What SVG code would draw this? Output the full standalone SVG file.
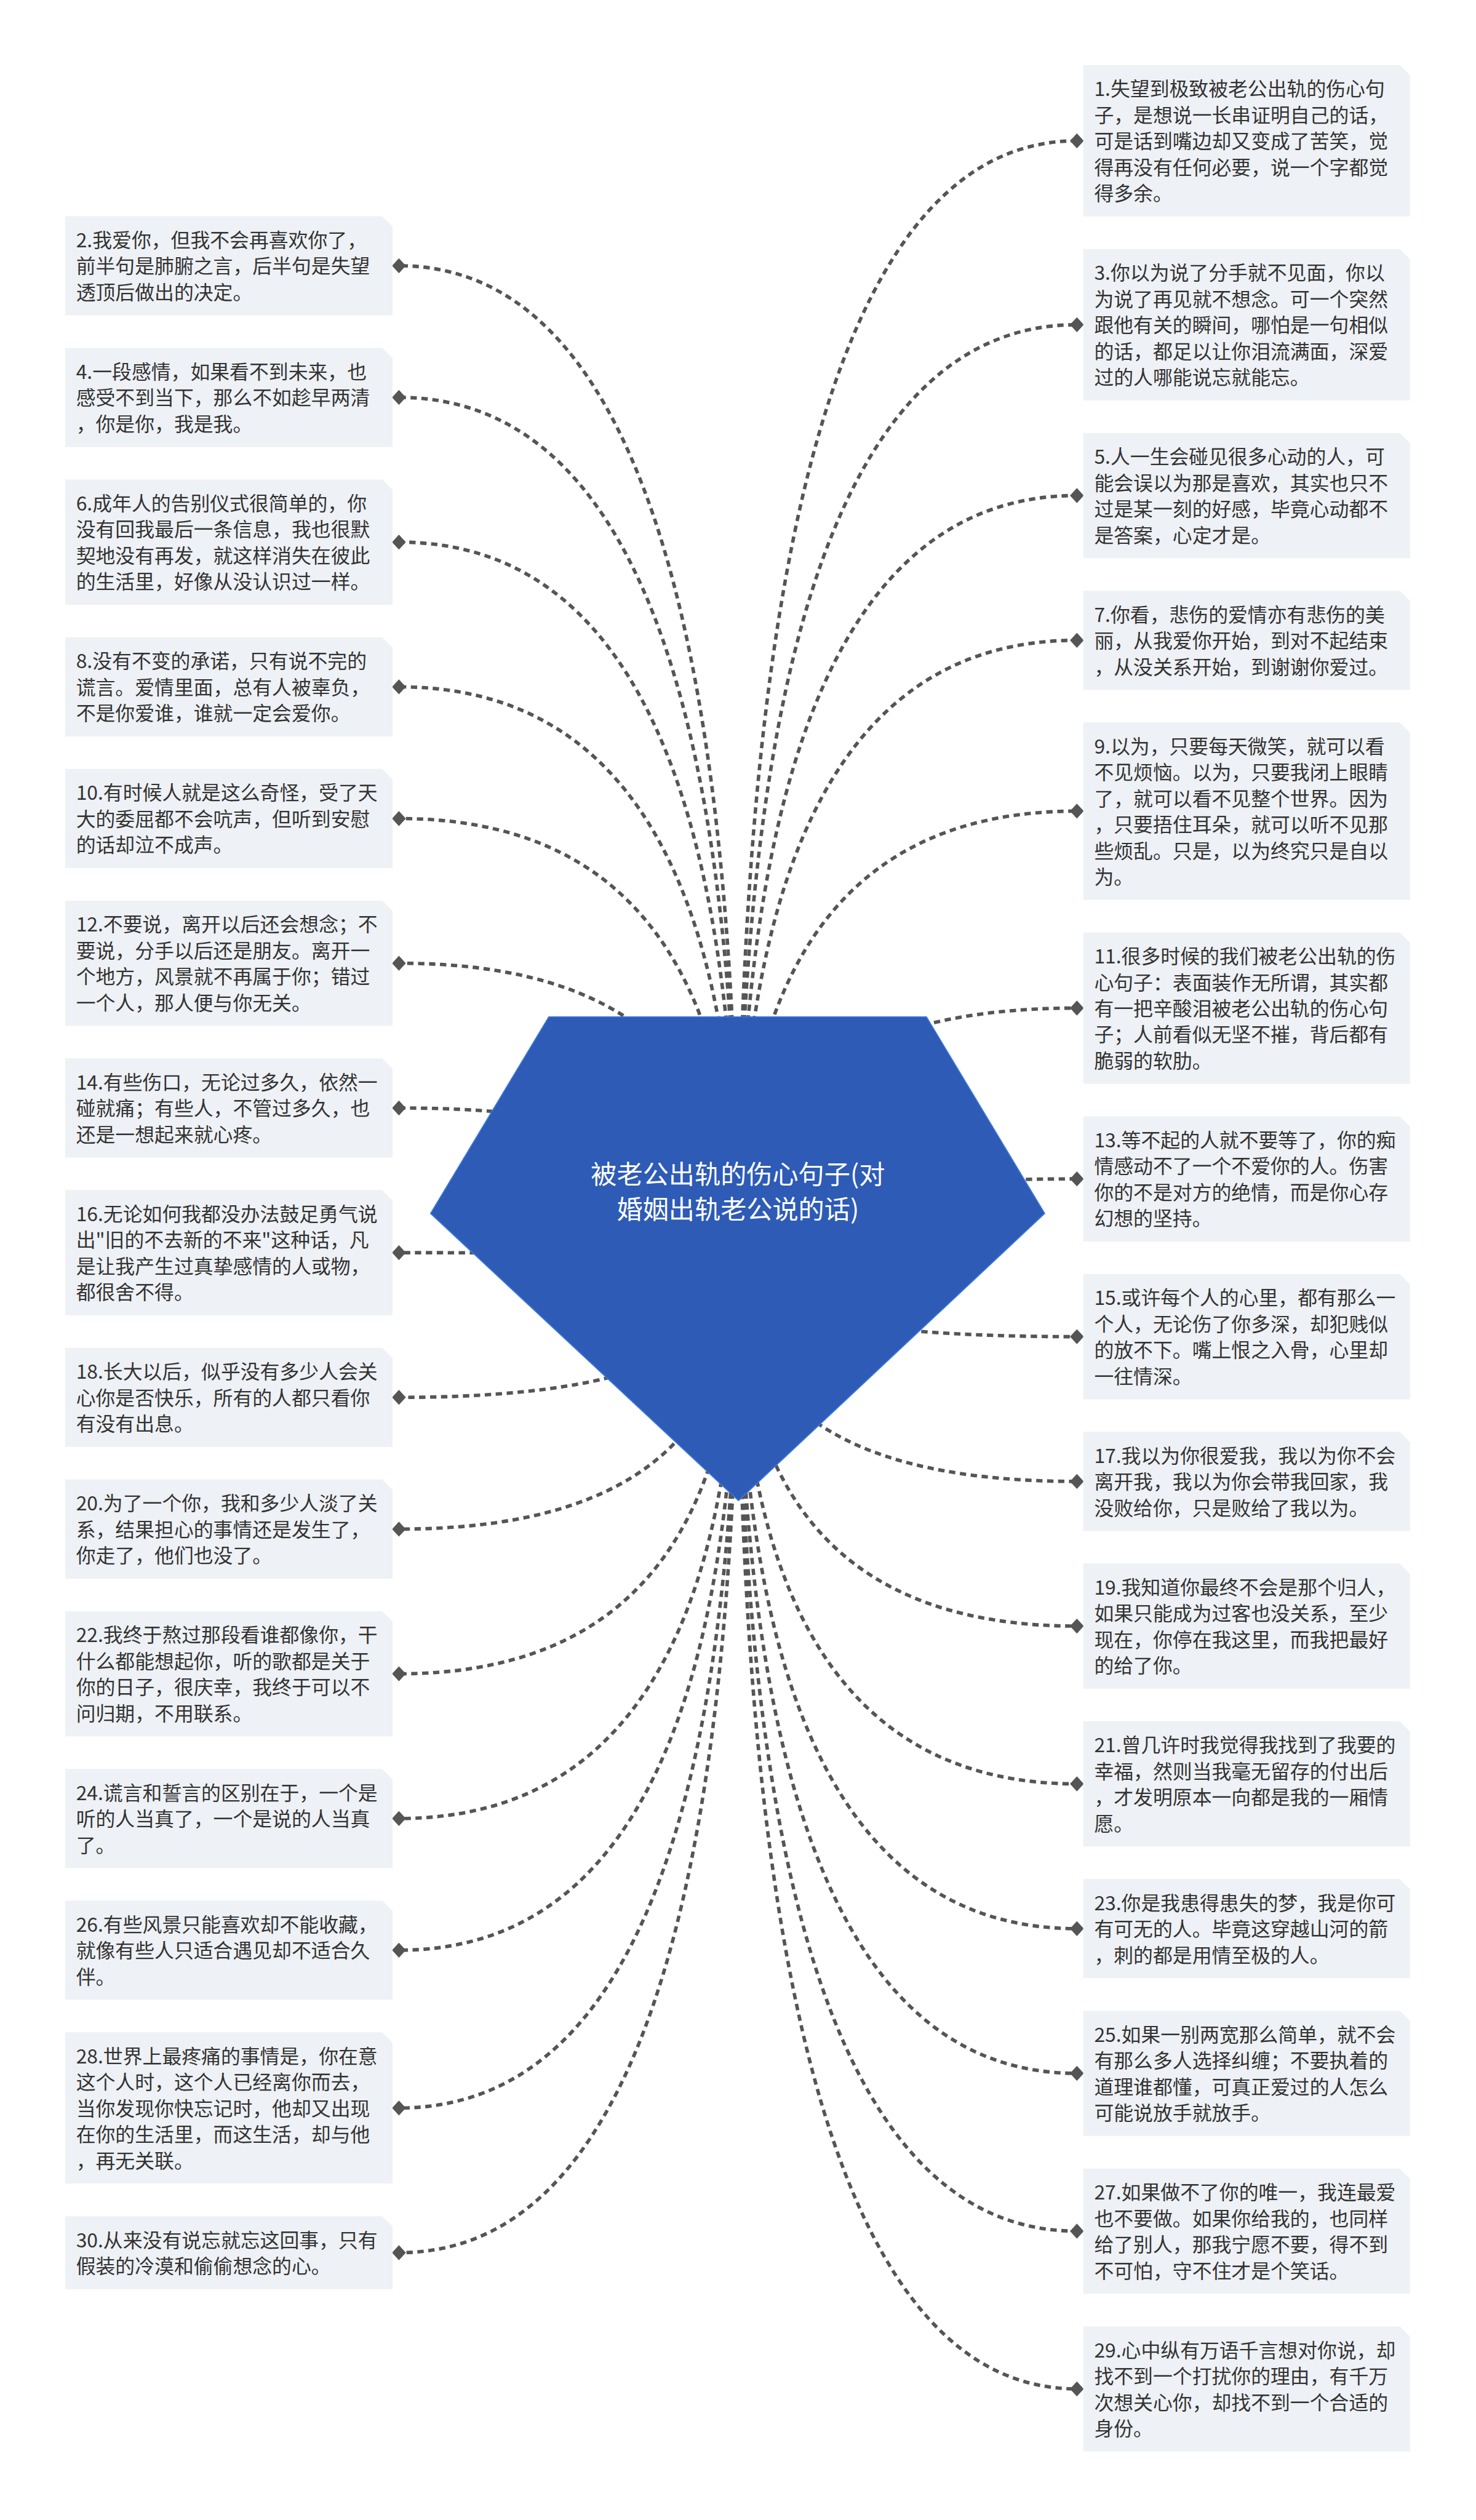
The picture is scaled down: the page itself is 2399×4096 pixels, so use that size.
<svg xmlns="http://www.w3.org/2000/svg" width="2399" height="4096" viewBox="0 0 2399 4096">
<style>
.box{fill:#EEF1F5}
.t{font-family:"Noto Sans CJK SC","Noto Sans",sans-serif;font-size:34px;fill:#333333}
.lk{fill:none;stroke:#555555;stroke-width:6;stroke-dasharray:11 8;marker-end:url(#dm)}
.title{font-family:"Noto Sans CJK SC","Noto Sans",sans-serif;font-size:45px;fill:#FFFFFF;text-anchor:middle}
</style>
<defs>
<marker id="dm" markerUnits="userSpaceOnUse" viewBox="-12 -13 24 26" markerWidth="24" markerHeight="26" refX="0" refY="0" orient="0">
<path d="M-12,0 L0,-13 L12,0 L0,13Z" fill="#555555"/>
</marker>
</defs>
<rect width="2399" height="4096" fill="#FFFFFF"/>
<g transform="scale(0.937)">
<g id="connectors">
<path class="lk" d="M1280,2190 Q1280,461 692,461"/>
<path class="lk" d="M1280,2190 Q1280,689.4 692,689.4"/>
<path class="lk" d="M1280,2190 Q1280,940.4 692,940.4"/>
<path class="lk" d="M1280,2190 Q1280,1191.5 692,1191.5"/>
<path class="lk" d="M1280,2190 Q1280,1419.9 692,1419.9"/>
<path class="lk" d="M1280,2190 Q1280,1670.9 692,1670.9"/>
<path class="lk" d="M1280,2190 Q1280,1922 692,1922"/>
<path class="lk" d="M1280,2190 Q1280,2173 692,2173"/>
<path class="lk" d="M1280,2190 Q1280,2424 692,2424"/>
<path class="lk" d="M1280,2190 Q1280,2652.5 692,2652.5"/>
<path class="lk" d="M1280,2190 Q1280,2903.5 692,2903.5"/>
<path class="lk" d="M1280,2190 Q1280,3154.5 692,3154.5"/>
<path class="lk" d="M1280,2190 Q1280,3383 692,3383"/>
<path class="lk" d="M1280,2190 Q1280,3656.7 692,3656.7"/>
<path class="lk" d="M1280,2190 Q1280,3907.7 692,3907.7"/>
<path class="lk" d="M1280,2190 Q1280,244.3 1868,244.3"/>
<path class="lk" d="M1280,2190 Q1280,563.3 1868,563.3"/>
<path class="lk" d="M1280,2190 Q1280,859.6 1868,859.6"/>
<path class="lk" d="M1280,2190 Q1280,1110.7 1868,1110.7"/>
<path class="lk" d="M1280,2190 Q1280,1407 1868,1407"/>
<path class="lk" d="M1280,2190 Q1280,1748.7 1868,1748.7"/>
<path class="lk" d="M1280,2190 Q1280,2045 1868,2045"/>
<path class="lk" d="M1280,2190 Q1280,2318.7 1868,2318.7"/>
<path class="lk" d="M1280,2190 Q1280,2569.8 1868,2569.8"/>
<path class="lk" d="M1280,2190 Q1280,2820.8 1868,2820.8"/>
<path class="lk" d="M1280,2190 Q1280,3094.5 1868,3094.5"/>
<path class="lk" d="M1280,2190 Q1280,3345.6 1868,3345.6"/>
<path class="lk" d="M1280,2190 Q1280,3596.6 1868,3596.6"/>
<path class="lk" d="M1280,2190 Q1280,3870.3 1868,3870.3"/>
<path class="lk" d="M1280,2190 Q1280,4144 1868,4144"/>
</g>
<g id="root">
<polygon points="952,1764 1607,1764 1812,2105 1281,2603 747,2105" fill="#2D5BB5" stroke="#3A75DA" stroke-width="2"/>
<text class="title"><tspan x="1280" y="2053">被老公出轨的伤心句子(对</tspan><tspan x="1280" y="2114">婚姻出轨老公说的话)</tspan></text>
</g>
<g id="n2"><path class="box" d="M113,375 H663 L681,393 V546.9 H113 Z"/><text class="t"><tspan x="132" y="429">2.我爱你，但我不会再喜欢你了，</tspan><tspan x="132" y="474.3">前半句是肺腑之言，后半句是失望</tspan><tspan x="132" y="519.6">透顶后做出的决定。</tspan></text></g>
<g id="n4"><path class="box" d="M113,603.4 H663 L681,621.4 V775.3 H113 Z"/><text class="t"><tspan x="132" y="657.4">4.一段感情，如果看不到未来，也</tspan><tspan x="132" y="702.7">感受不到当下，那么不如趁早两清</tspan><tspan x="132" y="748">，你是你，我是我。</tspan></text></g>
<g id="n6"><path class="box" d="M113,831.8 H663 L681,849.8 V1049 H113 Z"/><text class="t"><tspan x="132" y="885.8">6.成年人的告别仪式很简单的，你</tspan><tspan x="132" y="931.1">没有回我最后一条信息，我也很默</tspan><tspan x="132" y="976.4">契地没有再发，就这样消失在彼此</tspan><tspan x="132" y="1021.7">的生活里，好像从没认识过一样。</tspan></text></g>
<g id="n8"><path class="box" d="M113,1105.5 H663 L681,1123.5 V1277.4 H113 Z"/><text class="t"><tspan x="132" y="1159.5">8.没有不变的承诺，只有说不完的</tspan><tspan x="132" y="1204.8">谎言。爱情里面，总有人被辜负，</tspan><tspan x="132" y="1250.1">不是你爱谁，谁就一定会爱你。</tspan></text></g>
<g id="n10"><path class="box" d="M113,1333.9 H663 L681,1351.9 V1505.8 H113 Z"/><text class="t"><tspan x="132" y="1387.9">10.有时候人就是这么奇怪，受了天</tspan><tspan x="132" y="1433.2">大的委屈都不会吭声，但听到安慰</tspan><tspan x="132" y="1478.5">的话却泣不成声。</tspan></text></g>
<g id="n12"><path class="box" d="M113,1562.3 H663 L681,1580.3 V1779.5 H113 Z"/><text class="t"><tspan x="132" y="1616.3">12.不要说，离开以后还会想念；不</tspan><tspan x="132" y="1661.6">要说，分手以后还是朋友。离开一</tspan><tspan x="132" y="1706.9">个地方，风景就不再属于你；错过</tspan><tspan x="132" y="1752.2">一个人，那人便与你无关。</tspan></text></g>
<g id="n14"><path class="box" d="M113,1836 H663 L681,1854 V2007.9 H113 Z"/><text class="t"><tspan x="132" y="1890">14.有些伤口，无论过多久，依然一</tspan><tspan x="132" y="1935.3">碰就痛；有些人，不管过多久，也</tspan><tspan x="132" y="1980.6">还是一想起来就心疼。</tspan></text></g>
<g id="n16"><path class="box" d="M113,2064.4 H663 L681,2082.4 V2281.6 H113 Z"/><text class="t"><tspan x="132" y="2118.4">16.无论如何我都没办法鼓足勇气说</tspan><tspan x="132" y="2163.7">出"旧的不去新的不来"这种话，凡</tspan><tspan x="132" y="2209">是让我产生过真挚感情的人或物，</tspan><tspan x="132" y="2254.3">都很舍不得。</tspan></text></g>
<g id="n18"><path class="box" d="M113,2338.1 H663 L681,2356.1 V2510 H113 Z"/><text class="t"><tspan x="132" y="2392.1">18.长大以后，似乎没有多少人会关</tspan><tspan x="132" y="2437.4">心你是否快乐，所有的人都只看你</tspan><tspan x="132" y="2482.7">有没有出息。</tspan></text></g>
<g id="n20"><path class="box" d="M113,2566.5 H663 L681,2584.5 V2738.4 H113 Z"/><text class="t"><tspan x="132" y="2620.5">20.为了一个你，我和多少人淡了关</tspan><tspan x="132" y="2665.8">系，结果担心的事情还是发生了，</tspan><tspan x="132" y="2711.1">你走了，他们也没了。</tspan></text></g>
<g id="n22"><path class="box" d="M113,2794.9 H663 L681,2812.9 V3012.1 H113 Z"/><text class="t"><tspan x="132" y="2848.9">22.我终于熬过那段看谁都像你，干</tspan><tspan x="132" y="2894.2">什么都能想起你，听的歌都是关于</tspan><tspan x="132" y="2939.5">你的日子，很庆幸，我终于可以不</tspan><tspan x="132" y="2984.8">问归期，不用联系。</tspan></text></g>
<g id="n24"><path class="box" d="M113,3068.6 H663 L681,3086.6 V3240.5 H113 Z"/><text class="t"><tspan x="132" y="3122.6">24.谎言和誓言的区别在于，一个是</tspan><tspan x="132" y="3167.9">听的人当真了，一个是说的人当真</tspan><tspan x="132" y="3213.2">了。</tspan></text></g>
<g id="n26"><path class="box" d="M113,3297 H663 L681,3315 V3468.9 H113 Z"/><text class="t"><tspan x="132" y="3351">26.有些风景只能喜欢却不能收藏，</tspan><tspan x="132" y="3396.3">就像有些人只适合遇见却不适合久</tspan><tspan x="132" y="3441.6">伴。</tspan></text></g>
<g id="n28"><path class="box" d="M113,3525.4 H663 L681,3543.4 V3787.9 H113 Z"/><text class="t"><tspan x="132" y="3579.4">28.世界上最疼痛的事情是，你在意</tspan><tspan x="132" y="3624.7">这个人时，这个人已经离你而去，</tspan><tspan x="132" y="3670">当你发现你快忘记时，他却又出现</tspan><tspan x="132" y="3715.3">在你的生活里，而这生活，却与他</tspan><tspan x="132" y="3760.6">，再无关联。</tspan></text></g>
<g id="n30"><path class="box" d="M113,3844.4 H663 L681,3862.4 V3971 H113 Z"/><text class="t"><tspan x="132" y="3898.4">30.从来没有说忘就忘这回事，只有</tspan><tspan x="132" y="3943.7">假装的冷漠和偷偷想念的心。</tspan></text></g>
<g id="n1"><path class="box" d="M1879,113 H2428 L2446,131 V375.5 H1879 Z"/><text class="t"><tspan x="1898" y="167">1.失望到极致被老公出轨的伤心句</tspan><tspan x="1898" y="212.3">子，是想说一长串证明自己的话，</tspan><tspan x="1898" y="257.6">可是话到嘴边却又变成了苦笑，觉</tspan><tspan x="1898" y="302.9">得再没有任何必要，说一个字都觉</tspan><tspan x="1898" y="348.2">得多余。</tspan></text></g>
<g id="n3"><path class="box" d="M1879,432 H2428 L2446,450 V694.5 H1879 Z"/><text class="t"><tspan x="1898" y="486">3.你以为说了分手就不见面，你以</tspan><tspan x="1898" y="531.3">为说了再见就不想念。可一个突然</tspan><tspan x="1898" y="576.6">跟他有关的瞬间，哪怕是一句相似</tspan><tspan x="1898" y="621.9">的话，都足以让你泪流满面，深爱</tspan><tspan x="1898" y="667.2">过的人哪能说忘就能忘。</tspan></text></g>
<g id="n5"><path class="box" d="M1879,751 H2428 L2446,769 V968.2 H1879 Z"/><text class="t"><tspan x="1898" y="805">5.人一生会碰见很多心动的人，可</tspan><tspan x="1898" y="850.3">能会误以为那是喜欢，其实也只不</tspan><tspan x="1898" y="895.6">过是某一刻的好感，毕竟心动都不</tspan><tspan x="1898" y="940.9">是答案，心定才是。</tspan></text></g>
<g id="n7"><path class="box" d="M1879,1024.7 H2428 L2446,1042.7 V1196.6 H1879 Z"/><text class="t"><tspan x="1898" y="1078.7">7.你看，悲伤的爱情亦有悲伤的美</tspan><tspan x="1898" y="1124">丽，从我爱你开始，到对不起结束</tspan><tspan x="1898" y="1169.3">，从没关系开始，到谢谢你爱过。</tspan></text></g>
<g id="n9"><path class="box" d="M1879,1253.1 H2428 L2446,1271.1 V1560.9 H1879 Z"/><text class="t"><tspan x="1898" y="1307.1">9.以为，只要每天微笑，就可以看</tspan><tspan x="1898" y="1352.4">不见烦恼。以为，只要我闭上眼睛</tspan><tspan x="1898" y="1397.7">了，就可以看不见整个世界。因为</tspan><tspan x="1898" y="1443">，只要捂住耳朵，就可以听不见那</tspan><tspan x="1898" y="1488.3">些烦乱。只是，以为终究只是自以</tspan><tspan x="1898" y="1533.6">为。</tspan></text></g>
<g id="n11"><path class="box" d="M1879,1617.4 H2428 L2446,1635.4 V1879.9 H1879 Z"/><text class="t"><tspan x="1898" y="1671.4">11.很多时候的我们被老公出轨的伤</tspan><tspan x="1898" y="1716.7">心句子：表面装作无所谓，其实都</tspan><tspan x="1898" y="1762">有一把辛酸泪被老公出轨的伤心句</tspan><tspan x="1898" y="1807.3">子；人前看似无坚不摧，背后都有</tspan><tspan x="1898" y="1852.6">脆弱的软肋。</tspan></text></g>
<g id="n13"><path class="box" d="M1879,1936.4 H2428 L2446,1954.4 V2153.6 H1879 Z"/><text class="t"><tspan x="1898" y="1990.4">13.等不起的人就不要等了，你的痴</tspan><tspan x="1898" y="2035.7">情感动不了一个不爱你的人。伤害</tspan><tspan x="1898" y="2081">你的不是对方的绝情，而是你心存</tspan><tspan x="1898" y="2126.3">幻想的坚持。</tspan></text></g>
<g id="n15"><path class="box" d="M1879,2210.1 H2428 L2446,2228.1 V2427.3 H1879 Z"/><text class="t"><tspan x="1898" y="2264.1">15.或许每个人的心里，都有那么一</tspan><tspan x="1898" y="2309.4">个人，无论伤了你多深，却犯贱似</tspan><tspan x="1898" y="2354.7">的放不下。嘴上恨之入骨，心里却</tspan><tspan x="1898" y="2400">一往情深。</tspan></text></g>
<g id="n17"><path class="box" d="M1879,2483.8 H2428 L2446,2501.8 V2655.7 H1879 Z"/><text class="t"><tspan x="1898" y="2537.8">17.我以为你很爱我，我以为你不会</tspan><tspan x="1898" y="2583.1">离开我，我以为你会带我回家，我</tspan><tspan x="1898" y="2628.4">没败给你，只是败给了我以为。</tspan></text></g>
<g id="n19"><path class="box" d="M1879,2712.2 H2428 L2446,2730.2 V2929.4 H1879 Z"/><text class="t"><tspan x="1898" y="2766.2">19.我知道你最终不会是那个归人，</tspan><tspan x="1898" y="2811.5">如果只能成为过客也没关系，至少</tspan><tspan x="1898" y="2856.8">现在，你停在我这里，而我把最好</tspan><tspan x="1898" y="2902.1">的给了你。</tspan></text></g>
<g id="n21"><path class="box" d="M1879,2985.9 H2428 L2446,3003.9 V3203.1 H1879 Z"/><text class="t"><tspan x="1898" y="3039.9">21.曾几许时我觉得我找到了我要的</tspan><tspan x="1898" y="3085.2">幸福，然则当我毫无留存的付出后</tspan><tspan x="1898" y="3130.5">，才发明原本一向都是我的一厢情</tspan><tspan x="1898" y="3175.8">愿。</tspan></text></g>
<g id="n23"><path class="box" d="M1879,3259.6 H2428 L2446,3277.6 V3431.5 H1879 Z"/><text class="t"><tspan x="1898" y="3313.6">23.你是我患得患失的梦，我是你可</tspan><tspan x="1898" y="3358.9">有可无的人。毕竟这穿越山河的箭</tspan><tspan x="1898" y="3404.2">，刺的都是用情至极的人。</tspan></text></g>
<g id="n25"><path class="box" d="M1879,3488 H2428 L2446,3506 V3705.2 H1879 Z"/><text class="t"><tspan x="1898" y="3542">25.如果一别两宽那么简单，就不会</tspan><tspan x="1898" y="3587.3">有那么多人选择纠缠；不要执着的</tspan><tspan x="1898" y="3632.6">道理谁都懂，可真正爱过的人怎么</tspan><tspan x="1898" y="3677.9">可能说放手就放手。</tspan></text></g>
<g id="n27"><path class="box" d="M1879,3761.7 H2428 L2446,3779.7 V3978.9 H1879 Z"/><text class="t"><tspan x="1898" y="3815.7">27.如果做不了你的唯一，我连最爱</tspan><tspan x="1898" y="3861">也不要做。如果你给我的，也同样</tspan><tspan x="1898" y="3906.3">给了别人，那我宁愿不要，得不到</tspan><tspan x="1898" y="3951.6">不可怕，守不住才是个笑话。</tspan></text></g>
<g id="n29"><path class="box" d="M1879,4035.4 H2428 L2446,4053.4 V4252.6 H1879 Z"/><text class="t"><tspan x="1898" y="4089.4">29.心中纵有万语千言想对你说，却</tspan><tspan x="1898" y="4134.7">找不到一个打扰你的理由，有千万</tspan><tspan x="1898" y="4180">次想关心你，却找不到一个合适的</tspan><tspan x="1898" y="4225.3">身份。</tspan></text></g>
</g>
</svg>
